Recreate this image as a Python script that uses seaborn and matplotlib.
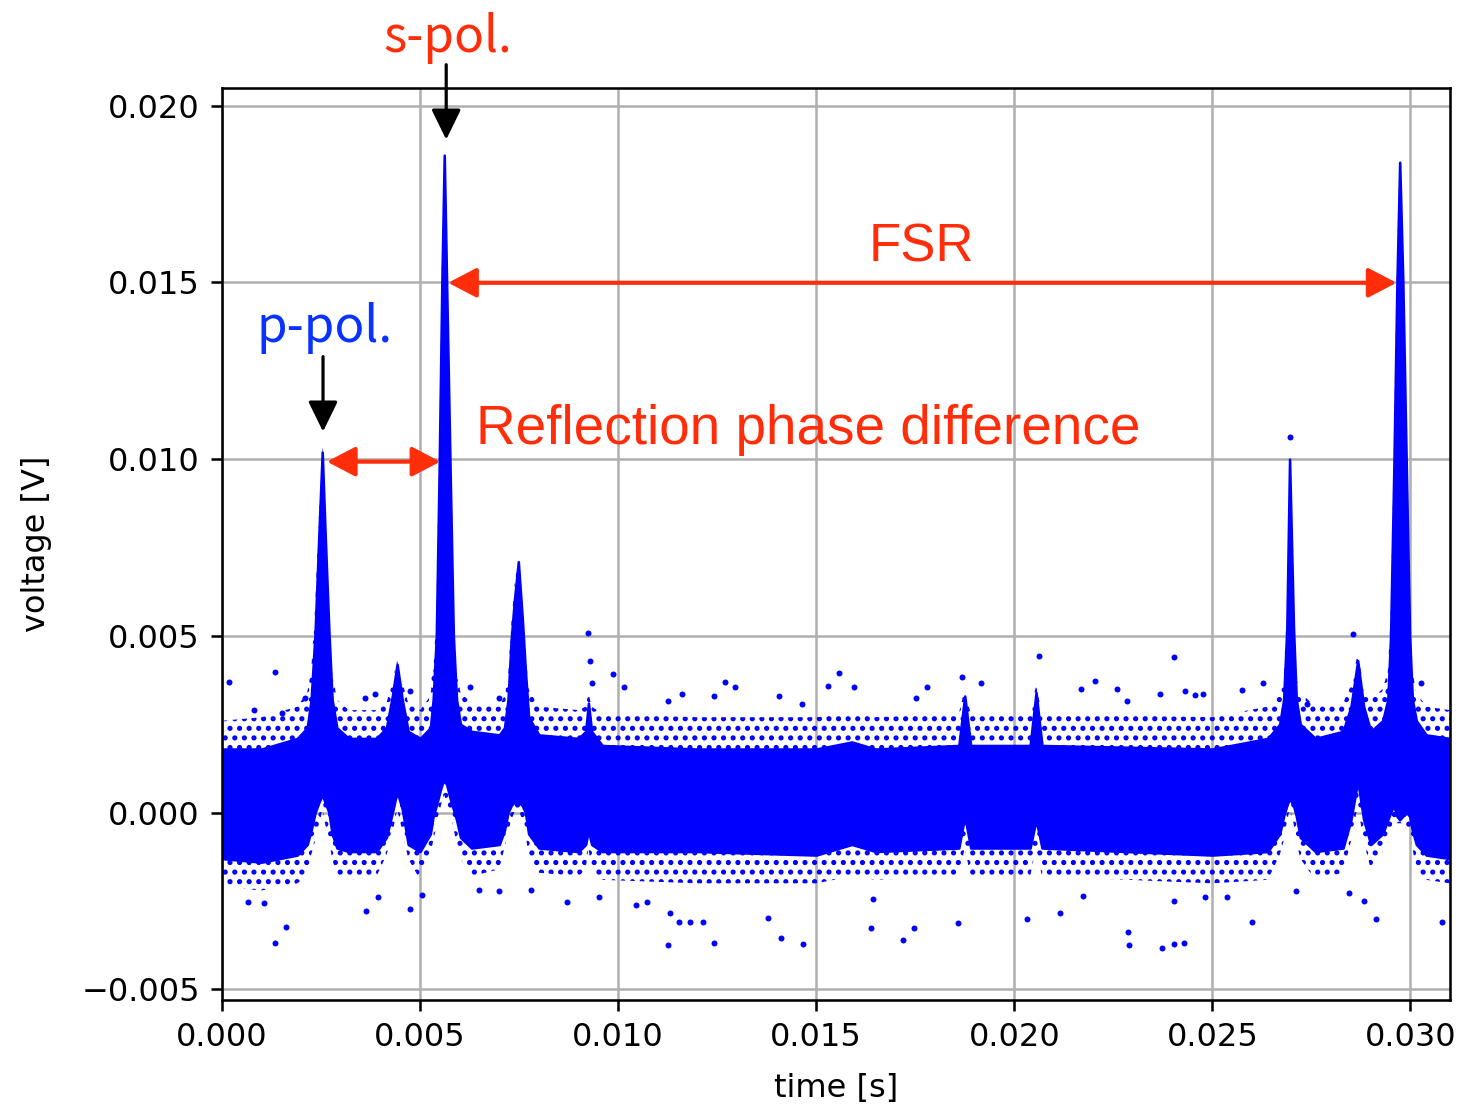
import matplotlib
matplotlib.use("Agg")
import matplotlib.pyplot as plt
import pandas as pd
import seaborn as sns

env_t = [0.0000, 0.0010, 0.0019, 0.00215, 0.00225, 0.00235, 0.00245, 0.00253, 0.00260, 0.00270,
         0.00278, 0.00290, 0.00320, 0.00390, 0.00415, 0.00430, 0.00442, 0.00455, 0.00470, 0.00500,
         0.00526, 0.00533, 0.00541, 0.00548, 0.00555, 0.00561, 0.00567, 0.00576, 0.00584, 0.00592,
         0.00602, 0.00630, 0.00700, 0.00713, 0.00722, 0.00730, 0.00738, 0.00748, 0.00758, 0.00766,
         0.00774, 0.00800, 0.00900, 0.00918, 0.00925, 0.00933, 0.00960, 0.01200, 0.01500, 0.01590,
         0.01650, 0.01860, 0.01875, 0.01890, 0.02040, 0.02055, 0.02070, 0.02500, 0.02640, 0.02670,
         0.02680, 0.02688, 0.02695, 0.02705, 0.02712, 0.02722, 0.02760, 0.02830, 0.02850, 0.02867,
         0.02882, 0.02900, 0.02930, 0.02943, 0.02950, 0.02958, 0.02966, 0.02973, 0.02981, 0.02990,
         0.02998, 0.03005, 0.03015, 0.03040, 0.03100]
core_hi = [0.0018, 0.0018, 0.0021, 0.0024, 0.0032, 0.0051, 0.0080, 0.0102, 0.0080, 0.0051,
           0.0032, 0.0024, 0.0021, 0.0021, 0.0024, 0.0033, 0.0042, 0.0032, 0.0023, 0.0021,
           0.0024, 0.0032, 0.0050, 0.0096, 0.0150, 0.0186, 0.0150, 0.0096, 0.0050, 0.0032,
           0.0025, 0.0023, 0.0022, 0.0024, 0.0032, 0.0049, 0.0060, 0.0071, 0.0055, 0.0040,
           0.0027, 0.0022, 0.0021, 0.0023, 0.0031, 0.0023, 0.0019, 0.0018, 0.0018, 0.0020,
           0.0018, 0.0019, 0.0033, 0.0019, 0.0019, 0.0034, 0.0019, 0.0018, 0.0021, 0.0025,
           0.0032, 0.0052, 0.0100, 0.0052, 0.0032, 0.0025, 0.0021, 0.0023, 0.0030, 0.0043,
           0.0030, 0.0023, 0.0026, 0.0032, 0.0050, 0.0096, 0.0150, 0.0184, 0.0150, 0.0096,
           0.0050, 0.0032, 0.0026, 0.0022, 0.0021]
core_lo = [-0.0013, -0.0014, -0.0012, -0.0009, -0.0005, 0.0000, 0.0003, 0.0005, 0.0003, 0.0000,
           -0.0006, -0.0010, -0.0011, -0.0011, -0.0007, 0.0000, 0.0006, 0.0001, -0.0009, -0.0011,
           -0.0006, -0.0001, 0.0002, 0.0005, 0.0008, 0.0009, 0.0008, 0.0004, 0.0001, -0.0002,
           -0.0007, -0.0010, -0.0009, -0.0005, 0.0000, 0.0002, 0.0003, 0.0003, 0.0002, 0.0000,
           -0.0006, -0.0010, -0.0011, -0.0009, -0.0005, -0.0009, -0.0011, -0.0011, -0.0012, -0.0009,
           -0.0011, -0.0010, -0.0001, -0.0010, -0.0010, -0.0002, -0.0010, -0.0012, -0.0011, -0.0006,
           -0.0001, 0.0002, 0.0004, 0.0002, -0.0001, -0.0007, -0.0011, -0.0010, -0.0002, 0.0009,
           -0.0002, -0.0009, -0.0006, -0.0002, 0.0000, 0.0002, -0.0001, -0.0002, -0.0001, 0.0000,
           -0.0001, -0.0005, -0.0009, -0.0012, -0.0013]
fringe_hi = [0.0026, 0.0027, 0.0030, 0.0034, 0.0040, 0.0058, 0.0085, 0.0104, 0.0085, 0.0058,
             0.0040, 0.0032, 0.0029, 0.0029, 0.0031, 0.0037, 0.0043, 0.0037, 0.0031, 0.0029,
             0.0033, 0.0040, 0.0055, 0.0100, 0.0155, 0.0186, 0.0155, 0.0100, 0.0055, 0.0040,
             0.0034, 0.0031, 0.0030, 0.0033, 0.0038, 0.0053, 0.0064, 0.0072, 0.0060, 0.0046,
             0.0035, 0.0030, 0.0029, 0.0030, 0.0034, 0.0030, 0.0028, 0.0027, 0.0027, 0.0028,
             0.0027, 0.0028, 0.0035, 0.0028, 0.0028, 0.0036, 0.0028, 0.0027, 0.0030, 0.0034,
             0.0038, 0.0056, 0.0100, 0.0056, 0.0038, 0.0034, 0.0030, 0.0031, 0.0036, 0.0045,
             0.0036, 0.0032, 0.0035, 0.0040, 0.0055, 0.0100, 0.0155, 0.0184, 0.0155, 0.0100,
             0.0055, 0.0040, 0.0034, 0.0030, 0.0029]
fringe_lo = [-0.0021, -0.0022, -0.0020, -0.0018, -0.0012, -0.0008, -0.0004, 0.0001, -0.0003, -0.0008,
             -0.0013, -0.0018, -0.0019, -0.0018, -0.0012, -0.0006, 0.0001, -0.0005, -0.0013, -0.0019,
             -0.0012, -0.0008, -0.0004, 0.0000, 0.0003, 0.0005, 0.0003, 0.0000, -0.0004, -0.0009,
             -0.0013, -0.0018, -0.0016, -0.0010, -0.0006, -0.0002, 0.0000, 0.0001, -0.0002, -0.0006,
             -0.0012, -0.0017, -0.0018, -0.0016, -0.0010, -0.0016, -0.0019, -0.0020, -0.0020, -0.0018,
             -0.0019, -0.0018, -0.0010, -0.0018, -0.0018, -0.0010, -0.0018, -0.0020, -0.0019, -0.0012,
             -0.0008, -0.0003, 0.0001, -0.0003, -0.0008, -0.0013, -0.0019, -0.0017, -0.0008, 0.0002,
             -0.0008, -0.0016, -0.0011, -0.0008, -0.0005, -0.0002, -0.0003, -0.0003, -0.0003, -0.0004,
             -0.0006, -0.0010, -0.0016, -0.0019, -0.0020]

# Isolated samples outside the noise band
outlier_t = [0.00134, 0.00018, 0.00081, 0.00152, 0.00210, 0.00387, 0.00361, 0.00475, 0.00536, 0.00627,
             0.00700, 0.00925, 0.00928, 0.00933, 0.00988, 0.01014, 0.01125, 0.01160, 0.01269, 0.01294,
             0.01241, 0.01406, 0.01557, 0.01529, 0.01464, 0.02063, 0.01868, 0.01916, 0.02204, 0.02260,
             0.01780, 0.01595, 0.02169, 0.02285, 0.01752, 0.02404, 0.02432, 0.02457, 0.02477, 0.02369,
             0.02627, 0.02574, 0.02854, 0.03026, 0.02943, 0.02738, 0.02695,
             0.00134, 0.00162, 0.00106, 0.00066, 0.00364, 0.00475, 0.00394, 0.00506, 0.00650, 0.00700,
             0.00781, 0.01125, 0.01241, 0.01411, 0.01466, 0.01130, 0.01153, 0.01181, 0.01213, 0.01378,
             0.01044, 0.01072, 0.00872, 0.00951, 0.01638, 0.01719, 0.01747, 0.01858, 0.02032, 0.02116,
             0.02288, 0.02290, 0.01643, 0.02174, 0.02374, 0.02402, 0.02429, 0.02599, 0.02404, 0.02710,
             0.02912, 0.02882, 0.02846, 0.03079, 0.02538, 0.02482]
outlier_v = [0.00399, 0.00371, 0.00291, 0.00283, 0.00323, 0.00337, 0.00323, 0.00345, 0.00382, 0.00356,
             0.00323, 0.00509, 0.00430, 0.00368, 0.00393, 0.00356, 0.00317, 0.00337, 0.00371, 0.00356,
             0.00331, 0.00331, 0.00396, 0.00359, 0.00308, 0.00444, 0.00385, 0.00368, 0.00373, 0.00351,
             0.00356, 0.00356, 0.00351, 0.00317, 0.00325, 0.00441, 0.00345, 0.00334, 0.00337, 0.00337,
             0.00368, 0.00348, 0.00504, 0.00368, 0.00345, 0.00308, 0.01064,
             -0.00368, -0.00323, -0.00257, -0.00252, -0.00277, -0.00272, -0.00238, -0.00232, -0.00218, -0.00223,
             -0.00218, -0.00373, -0.00368, -0.00356, -0.00371, -0.00283, -0.00308, -0.00308, -0.00308, -0.00297,
             -0.00260, -0.00252, -0.00252, -0.00238, -0.00325, -0.00359, -0.00325, -0.00311, -0.00300, -0.00283,
             -0.00337, -0.00373, -0.00243, -0.00235, -0.00382, -0.00371, -0.00368, -0.00308, -0.00249, -0.00221,
             -0.00300, -0.00249, -0.00226, -0.00308, -0.00238, -0.00238]

BLUE = "#0000ff"
RED = "#ff2d0a"

plt.rcParams["font.family"] = ["DejaVu Sans"]
plt.rcParams["font.size"] = 10
plt.rcParams["hatch.linewidth"] = 1.0

fig = plt.figure(figsize=(1462 / 230, 1109 / 230), dpi=230)
ax = fig.add_axes([222 / 1462, 1 - 1000 / 1109, (1450 - 222) / 1462, (1000 - 88) / 1109])

# sparse fringe of samples (dotted) and dense core of the trace
ax.fill_between(env_t, core_hi, fringe_hi, facecolor="none", edgecolor=BLUE, hatch="....", linewidth=0)
ax.fill_between(env_t, fringe_lo, core_lo, facecolor="none", edgecolor=BLUE, hatch="....", linewidth=0)
ax.fill_between(env_t, core_lo, core_hi, color=BLUE, linewidth=0.8)

outliers = pd.DataFrame({"time": outlier_t, "voltage": outlier_v})
sns.scatterplot(data=outliers, x="time", y="voltage", color=BLUE, s=3.5, linewidth=0, ax=ax)

ax.set_xlim(0, 0.031)
ax.set_ylim(-0.0053, 0.0205)
ax.grid(True, color="#b0b0b0", linewidth=0.8)
ax.set_axisbelow(True)
ax.set_xlabel("time [s]", labelpad=6)
ax.set_ylabel("voltage [V]", labelpad=9)

# annotations added on top of the measured trace
ax.text(0.00569, 0.02153, "s-pol.", color=RED, fontsize=15.5, ha="center", va="baseline",
        family=["Noto Sans CJK JP", "DejaVu Sans"], clip_on=False)
ax.text(0.00260, 0.01332, "p-pol.", color="#0a32ff", fontsize=15.5, ha="center", va="baseline",
        family=["Noto Sans CJK JP", "DejaVu Sans"])
ax.text(0.01765, 0.01559, "FSR", color=RED, fontsize=16.5, ha="center", va="baseline",
        family=["Liberation Sans"])
ax.text(0.00640, 0.01044, "Reflection phase difference", color=RED, fontsize=17.2, ha="left",
        va="baseline", family=["Liberation Sans"])

black_arrow = dict(arrowstyle="-|>,head_length=0.45,head_width=0.22", color="black", lw=1.0,
                   mutation_scale=18, shrinkA=0, shrinkB=0)
red_arrow = dict(arrowstyle="<|-|>,head_length=0.42,head_width=0.22", color=RED, lw=1.3,
                 mutation_scale=18, shrinkA=0, shrinkB=0)
ax.annotate("", xy=(0.00566, 0.01904), xytext=(0.00566, 0.02116), arrowprops=black_arrow,
            annotation_clip=False)
ax.annotate("", xy=(0.00255, 0.01078), xytext=(0.00255, 0.01290), arrowprops=black_arrow)
ax.annotate("", xy=(0.00571, 0.01499), xytext=(0.02965, 0.01499), arrowprops=red_arrow)
ax.annotate("", xy=(0.00265, 0.00993), xytext=(0.00551, 0.00993), arrowprops=red_arrow)

fig.savefig("out.png", dpi=230)
